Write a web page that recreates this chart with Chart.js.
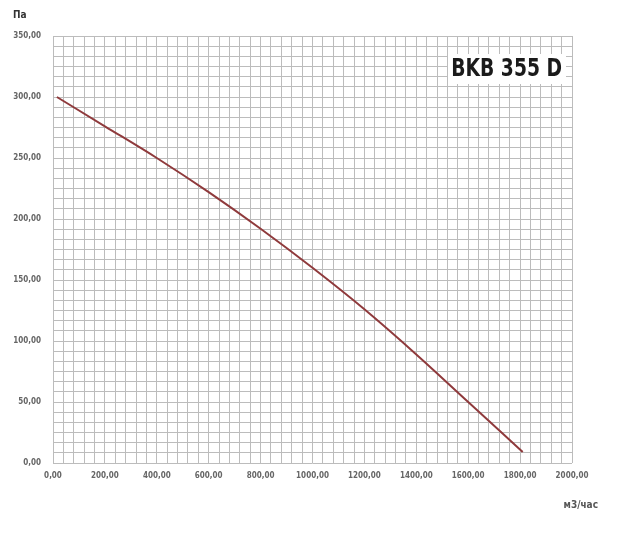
<!DOCTYPE html>
<html>
<head>
<meta charset="utf-8">
<script src="https://cdn.jsdelivr.net/npm/chart.js@4"></script>
<style>
  html, body { margin: 0; padding: 0; background: #fff; }
  #wrap { width: 619px; height: 534px; }
</style>
</head>
<body>
<div id="wrap"><canvas id="chart"></canvas></div>
<script>
// values
const flow = [15, 200, 400, 600, 800, 1000, 1200, 1400, 1600, 1810];
const pressure = [300, 276, 250, 222, 192, 160, 126, 89, 50, 9];
const xLabelSteps = [0, 200, 400, 600, 800, 1000, 1200, 1400, 1600, 1800, 2000];
const yLabelSteps = [0, 50, 100, 150, 200, 250, 300, 350];
const modelName = 'BKB 355 D';
const yUnit = 'Па';
const xUnit = 'м3/час';

const fmt = v => v.toFixed(2).replace('.', ',');
const isLabel = (v, list) => list.some(s => Math.abs(s - v) < 1e-6);

// fine grid: 5 lines per 200 on x, 6 lines per 50 on y
const xGrid = [];
for (let i = 0; i <= 50; i++) xGrid.push(i * 40);
const yGrid = [];
for (let i = 0; i <= 42; i++) yGrid.push(i * 50 / 6);

const textPlugin = {
  id: 'texts',
  afterDraw(chart) {
    const { ctx, chartArea: a } = chart;
    ctx.save();
    // model name on white box, condensed
    ctx.fillStyle = '#fff';
    ctx.fillRect(a.right - 124, a.top + 18, 118, 30);
    ctx.save();
    ctx.translate(a.right - 10, a.top + 34);
    ctx.scale(0.78, 1);
    ctx.font = 'bold 24px "DejaVu Sans", sans-serif';
    ctx.fillStyle = '#1a1a1a';
    ctx.textBaseline = 'middle';
    ctx.textAlign = 'right';
    ctx.fillText(modelName, 0, 0);
    ctx.restore();
    // units
    ctx.textBaseline = 'middle';
    ctx.font = 'bold 10px "DejaVu Sans Condensed", sans-serif';
    ctx.fillStyle = '#333';
    ctx.textAlign = 'left';
    ctx.fillText(yUnit, 13, 15);
    ctx.fillStyle = '#555';
    ctx.textAlign = 'right';
    ctx.fillText(xUnit, a.right + 26, a.bottom + 42);
    ctx.restore();
  }
};

new Chart(document.getElementById('chart'), {
  type: 'line',
  data: {
    datasets: [{
      data: flow.map((x, i) => ({ x, y: pressure[i] })),
      borderColor: '#8f3a3c',
      borderWidth: 2,
      pointRadius: 0,
      cubicInterpolationMode: 'monotone',
      fill: false
    }]
  },
  options: {
    responsive: true,
    maintainAspectRatio: false,
    animation: false,
    layout: { padding: { top: 36, right: 47, bottom: 51, left: 0 } },
    plugins: { legend: { display: false }, tooltip: { enabled: false } },
    scales: {
      x: {
        type: 'linear', min: 0, max: 2000,
        afterBuildTicks: s => { s.ticks = xGrid.map(v => ({ value: v })); },
        afterFit: s => { s.height = 20; },
        grid: { color: '#bcbcbc', lineWidth: 1, drawTicks: false },
        border: { display: false },
        ticks: {
          autoSkip: false, maxRotation: 0, padding: 8,
          color: '#666',
          font: { size: 8, weight: 'bold', family: '"DejaVu Sans Condensed", sans-serif' },
          callback: v => isLabel(v, xLabelSteps) ? fmt(v) : ''
        }
      },
      y: {
        type: 'linear', min: 0, max: 350,
        afterBuildTicks: s => { s.ticks = yGrid.map(v => ({ value: v })); },
        afterFit: s => { s.width = 53; },
        grid: { color: '#bcbcbc', lineWidth: 1, drawTicks: false },
        border: { display: false },
        ticks: {
          autoSkip: false, padding: 12,
          color: '#666',
          font: { size: 8, weight: 'bold', family: '"DejaVu Sans Condensed", sans-serif' },
          callback: v => isLabel(v, yLabelSteps) ? fmt(v) : ''
        }
      }
    }
  },
  plugins: [textPlugin]
});
</script>
</body>
</html>
